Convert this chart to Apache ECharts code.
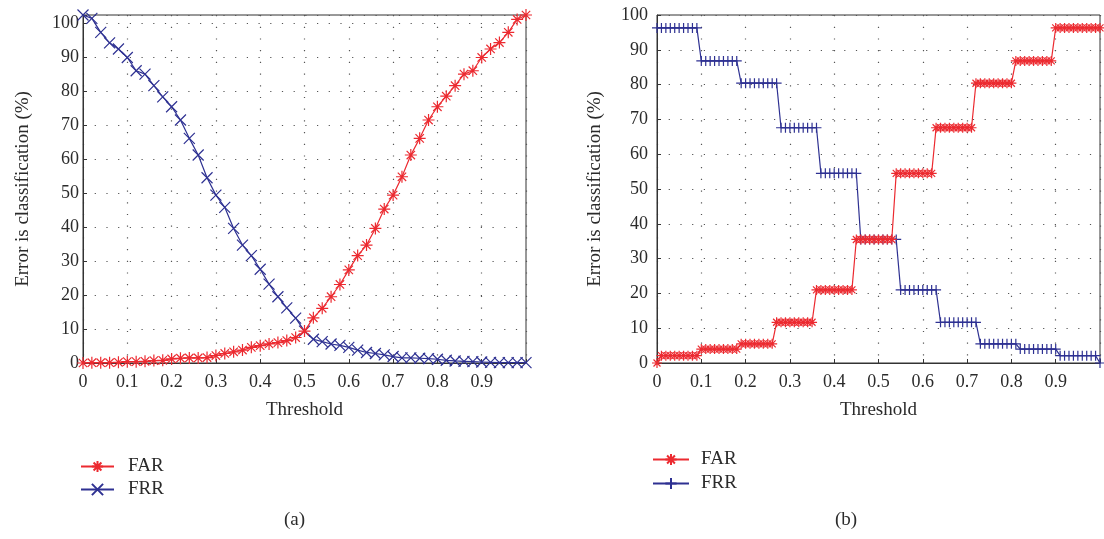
<!DOCTYPE html>
<html>
<head>
<meta charset="utf-8">
<script src="https://cdn.jsdelivr.net/npm/echarts@6/dist/echarts.min.js"></script>
<style>
  html, body { margin: 0; padding: 0; background: #fff; }
  #wrap { position: relative; width: 1104px; height: 539px; }
  .pane { position: absolute; top: 0; width: 552px; height: 539px; }
  #chartA { left: 0; }
  #chartB { left: 552px; }
</style>
</head>
<body>
<div id="wrap">
  <div id="chartA" class="pane"></div>
  <div id="chartB" class="pane"></div>
</div>
<script>
/* ---- data ---- */

/* (a) thresholds, step 0.02 */
let thrA = [
  0, 0.02, 0.04, 0.06, 0.08, 0.10, 0.12, 0.14, 0.16, 0.18,
  0.20, 0.22, 0.24, 0.26, 0.28, 0.30, 0.32, 0.34, 0.36, 0.38,
  0.40, 0.42, 0.44, 0.46, 0.48, 0.50, 0.52, 0.54, 0.56, 0.58,
  0.60, 0.62, 0.64, 0.66, 0.68, 0.70, 0.72, 0.74, 0.76, 0.78,
  0.80, 0.82, 0.84, 0.86, 0.88, 0.90, 0.92, 0.94, 0.96, 0.98, 1.0
];
let farA = [
  0, 0.1, 0.1, 0.1, 0.2, 0.4, 0.4, 0.5, 0.7, 0.8,
  1.2, 1.4, 1.5, 1.5, 1.6, 2.2, 2.8, 3.3, 3.8, 4.6,
  5.1, 5.6, 6.0, 6.6, 7.5, 9.4, 13.3, 16.1, 19.5, 23.1,
  27.4, 31.6, 34.7, 39.6, 45.3, 49.4, 54.8, 61.2, 66.1, 71.5,
  75.4, 78.5, 81.6, 85.0, 86.0, 89.9, 92.4, 94.3, 97.3, 101.1, 102.4
];
let frrA = [
  102.4, 101.4, 97.3, 94.2, 92.4, 89.9, 86.0, 85.0, 81.6, 78.3,
  75.4, 71.5, 66.1, 61.2, 54.5, 49.4, 45.8, 39.6, 34.7, 31.6,
  27.6, 23.2, 19.5, 16.2, 13.2, 9.4, 7.0, 6.3, 5.6, 5.2,
  4.6, 3.8, 3.1, 2.8, 2.4, 1.9, 1.5, 1.5, 1.4, 1.3,
  1.1, 0.8, 0.6, 0.5, 0.4, 0.3, 0.2, 0.1, 0.1, 0.1, 0.1
];

/* (b) thresholds, step 0.01 */
let thrB = [
  0, 0.01, 0.02, 0.03, 0.04, 0.05, 0.06, 0.07, 0.08, 0.09,
  0.10, 0.11, 0.12, 0.13, 0.14, 0.15, 0.16, 0.17, 0.18, 0.19,
  0.20, 0.21, 0.22, 0.23, 0.24, 0.25, 0.26, 0.27, 0.28, 0.29,
  0.30, 0.31, 0.32, 0.33, 0.34, 0.35, 0.36, 0.37, 0.38, 0.39,
  0.40, 0.41, 0.42, 0.43, 0.44, 0.45, 0.46, 0.47, 0.48, 0.49,
  0.50, 0.51, 0.52, 0.53, 0.54, 0.55, 0.56, 0.57, 0.58, 0.59,
  0.60, 0.61, 0.62, 0.63, 0.64, 0.65, 0.66, 0.67, 0.68, 0.69,
  0.70, 0.71, 0.72, 0.73, 0.74, 0.75, 0.76, 0.77, 0.78, 0.79,
  0.80, 0.81, 0.82, 0.83, 0.84, 0.85, 0.86, 0.87, 0.88, 0.89,
  0.90, 0.91, 0.92, 0.93, 0.94, 0.95, 0.96, 0.97, 0.98, 0.99, 1.0
];
let farB = [
  0, 2.1, 2.1, 2.1, 2.1, 2.1, 2.1, 2.1, 2.1, 2.1,
  4.0, 4.0, 4.0, 4.0, 4.0, 4.0, 4.0, 4.0, 4.0, 5.5,
  5.5, 5.5, 5.5, 5.5, 5.5, 5.5, 5.5, 11.7, 11.7, 11.7,
  11.7, 11.7, 11.7, 11.7, 11.7, 11.7, 21.0, 21.0, 21.0, 21.0,
  21.0, 21.0, 21.0, 21.0, 21.0, 35.5, 35.5, 35.5, 35.5, 35.5,
  35.5, 35.5, 35.5, 35.5, 54.5, 54.5, 54.5, 54.5, 54.5, 54.5,
  54.5, 54.5, 54.5, 67.6, 67.6, 67.6, 67.6, 67.6, 67.6, 67.6,
  67.6, 67.6, 80.4, 80.4, 80.4, 80.4, 80.4, 80.4, 80.4, 80.4,
  80.4, 86.8, 86.8, 86.8, 86.8, 86.8, 86.8, 86.8, 86.8, 86.8,
  96.3, 96.3, 96.3, 96.3, 96.3, 96.3, 96.3, 96.3, 96.3, 96.3, 96.3
];
let frrB = [
  96.3, 96.3, 96.3, 96.3, 96.3, 96.3, 96.3, 96.3, 96.3, 96.3,
  86.8, 86.8, 86.8, 86.8, 86.8, 86.8, 86.8, 86.8, 86.8, 80.4,
  80.4, 80.4, 80.4, 80.4, 80.4, 80.4, 80.4, 80.4, 67.6, 67.6,
  67.6, 67.6, 67.6, 67.6, 67.6, 67.6, 67.6, 54.5, 54.5, 54.5,
  54.5, 54.5, 54.5, 54.5, 54.5, 54.5, 35.5, 35.5, 35.5, 35.5,
  35.5, 35.5, 35.5, 35.5, 35.5, 21.0, 21.0, 21.0, 21.0, 21.0,
  21.0, 21.0, 21.0, 21.0, 11.7, 11.7, 11.7, 11.7, 11.7, 11.7,
  11.7, 11.7, 11.7, 5.5, 5.5, 5.5, 5.5, 5.5, 5.5, 5.5,
  5.5, 5.5, 4.0, 4.0, 4.0, 4.0, 4.0, 4.0, 4.0, 4.0,
  4.0, 2.1, 2.1, 2.1, 2.1, 2.1, 2.1, 2.1, 2.1, 2.1, 0
];

/* ---- style ---- */
let RED = "#ec2a30";
let BLUE = "#2e3192";
let TXT = "#2b2b2b";
let FONT = '"Liberation Serif", "DejaVu Serif", serif';

/* stroked marker shapes (MATLAB-like) */
let SYM_STAR = "path://M5,0 L5,10 M0,5 L10,5 M1.5,1.5 L8.5,8.5 M1.5,8.5 L8.5,1.5";
let SYM_CROSS = "path://M0,0 L10,10 M0,10 L10,0";
let SYM_PLUS = "path://M5,0 L5,10 M0,5 L10,5";

function pairs(xs, ys) {
  return xs.map(function (x, i) { return [x, ys[i]]; });
}

function lineSeries(name, color, data, symbol, size) {
  return {
    name: name,
    type: "line",
    data: data,
    symbol: symbol,
    symbolSize: size,
    showAllSymbol: true,
    animation: false,
    lineStyle: { color: color, width: 1.2 },
    itemStyle: { color: color, borderColor: color, borderWidth: 1.2 },
    z: name === "FAR" ? 3 : 2,
  };
}

function makeChart(el, cfg) {
  let chart = echarts.init(el, null, { renderer: "canvas" });
  chart.setOption({
    backgroundColor: "#fff",
    animation: false,
    textStyle: { fontFamily: FONT, color: TXT },
    grid: {
      left: cfg.gridLeft, top: 15, width: 443, height: 348,
      show: true, borderColor: "#333", borderWidth: 1,
    },
    xAxis: {
      type: "value", min: 0, max: 1, interval: 0.1,
      name: "Threshold", nameLocation: "middle", nameGap: 38,
      nameTextStyle: { fontSize: 19, color: TXT, fontFamily: FONT },
      axisLine: { lineStyle: { color: "#333" } },
      axisTick: { inside: true, length: 4, lineStyle: { color: "#333" } },
      axisLabel: {
        fontSize: 18, color: TXT, fontFamily: FONT, margin: 10,
        formatter: function (v) { return v >= 1 ? "" : String(Math.round(v * 10) / 10); },
      },
      splitLine: { show: true, lineStyle: { color: "#555", width: 1.2, type: [1.2, 10.5] } },
    },
    yAxis: {
      type: "value", min: 0, max: cfg.yMax, interval: 10,
      name: "Error is classification (%)", nameLocation: "middle", nameGap: cfg.nameGap,
      nameTextStyle: { fontSize: 19, color: TXT, fontFamily: FONT },
      axisLine: { show: true, lineStyle: { color: "#333" } },
      axisTick: { show: true, inside: true, length: 4, lineStyle: { color: "#333" } },
      axisLabel: {
        fontSize: 18, color: TXT, fontFamily: FONT, margin: cfg.labelMargin,
        formatter: function (v) { return v % 10 === 0 ? String(v) : ""; },
      },
      splitLine: { show: true, lineStyle: { color: "#555", width: 1.2, type: [1.2, 10.5] } },
    },
    legend: {
      orient: "vertical", left: cfg.legendLeft, top: cfg.legendTop,
      itemWidth: cfg.legendIcon, itemHeight: 14, itemGap: cfg.legendGap, padding: 0,
      data: ["FAR", "FRR"],
      textStyle: { fontSize: 19, color: TXT, fontFamily: FONT, padding: [0, 0, 0, cfg.legendTextPad] },
    },
    graphic: [{
      type: "text", left: cfg.capLeft, top: 511,
      style: { text: cfg.caption, font: "19px " + FONT, fill: TXT },
    }],
    series: [
      lineSeries("FAR", RED, pairs(cfg.thr, cfg.far), SYM_STAR, cfg.farSize),
      lineSeries("FRR", BLUE, pairs(cfg.thr, cfg.frr), cfg.frrSym, cfg.frrSize),
    ],
  });
  return chart;
}

makeChart(document.getElementById("chartA"), {
  gridLeft: 83, yMax: 102.4, nameGap: 50, labelMargin: 4,
  thr: thrA, far: farA, frr: frrA,
  farSize: 12, frrSym: SYM_CROSS, frrSize: 11,
  legendLeft: 80, legendTop: 457, legendIcon: 33, legendGap: 4, legendTextPad: 9,
  capLeft: 284, caption: "(a)",
});

makeChart(document.getElementById("chartB"), {
  gridLeft: 105, yMax: 100, nameGap: 52, labelMargin: 9,
  thr: thrB, far: farB, frr: frrB,
  farSize: 10, frrSym: SYM_PLUS, frrSize: 10,
  legendLeft: 100, legendTop: 450, legendIcon: 36, legendGap: 5, legendTextPad: 7,
  capLeft: 283, caption: "(b)",
});
</script>
</body>
</html>
